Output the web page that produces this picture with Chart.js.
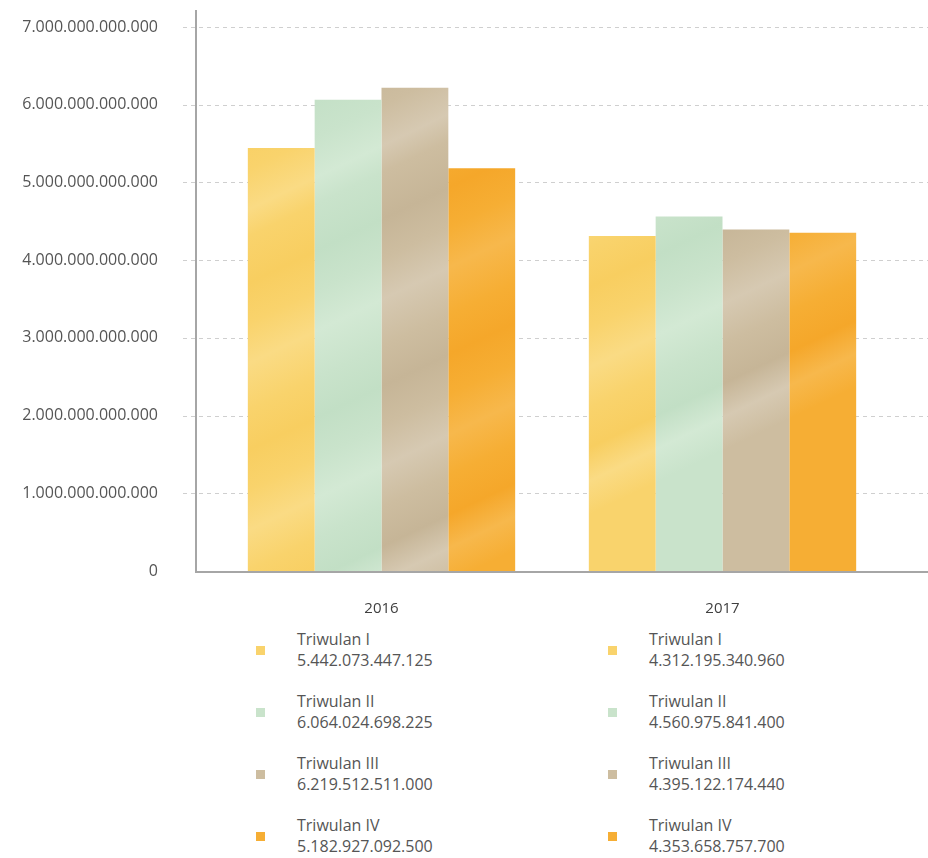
<!DOCTYPE html>
<html>
<head>
<meta charset="utf-8">
<script src="https://cdn.jsdelivr.net/npm/chart.js@4/dist/chart.umd.min.js"></script>
<style>
  html, body { margin: 0; padding: 0; background: #fff; }
  body { width: 928px; height: 858px; overflow: hidden; font-family: "Open Sans", sans-serif; }
  #wrap { position: relative; width: 928px; height: 625px; }
  #legend { position: relative; height: 233px; color: #555; font-size: 16px; }
  .col { position: absolute; top: 4px; }
  .item { position: relative; height: 62px; padding-left: 41px; line-height: 21px; }
  .swatch { position: absolute; left: 0; top: 17px; width: 9px; height: 9px; }
</style>
</head>
<body>
<div id="wrap"><canvas id="chart" width="928" height="625"></canvas></div>
<div id="legend"></div>
<script>
const years = ['2016', '2017'];
const quarters = ['Triwulan I', 'Triwulan II', 'Triwulan III', 'Triwulan IV'];
const triwulan1 = [5442073447125, 4312195340960];
const triwulan2 = [6064024698225, 4560975841400];
const triwulan3 = [6219512511000, 4395122174440];
const triwulan4 = [5182927092500, 4353658757700];
const yTicks = [0, 1e12, 2e12, 3e12, 4e12, 5e12, 6e12, 7e12];

// base colour plus a lighter and darker shade for the brush streaks
const palette = [
  ['#f9d36c', '#fadb84', '#f8ce60'],
  ['#c9e3cb', '#d3e9d4', '#c2dfc5'],
  ['#cdbda0', '#d6c9b2', '#c6b597'],
  ['#f6ae34', '#f7b84c', '#f5a72a']
];

const series = [triwulan1, triwulan2, triwulan3, triwulan4];

function fmt(v) {
  return String(v).replace(/\B(?=(\d{3})+(?!\d))/g, '.');
}

// soft diagonal brush strokes, uneven spacing
function streaks(ctx, area, shades) {
  const g = ctx.createLinearGradient(area.left, area.top, area.left + 260, area.bottom);
  const stops = [
    [0, 0], [0.05, 1], [0.11, 0], [0.16, 2], [0.24, 0], [0.3, 1], [0.34, 0],
    [0.41, 2], [0.47, 0], [0.53, 1], [0.6, 0], [0.66, 2], [0.72, 0], [0.78, 1],
    [0.84, 0], [0.9, 2], [0.95, 1], [1, 0]
  ];
  stops.forEach(([p, s]) => g.addColorStop(p, shades[s]));
  return g;
}

const axisLines = {
  id: 'axisLines',
  beforeDatasetsDraw(chart) {
    const { ctx, scales: { y } } = chart;
    ctx.save();
    ctx.strokeStyle = '#cfcfcf';
    ctx.lineWidth = 1;
    ctx.setLineDash([4, 4]);
    yTicks.slice(1).forEach(t => {
      const py = Math.round(y.getPixelForValue(t)) + 0.5;
      ctx.beginPath();
      ctx.moveTo(183, py);
      ctx.lineTo(chart.width, py);
      ctx.stroke();
    });
    ctx.restore();
  },
  afterDatasetsDraw(chart) {
    const { ctx, scales: { y } } = chart;
    const base = y.getPixelForValue(0);
    ctx.save();
    ctx.strokeStyle = '#a6a6a6';
    ctx.lineWidth = 2;
    ctx.beginPath();
    ctx.moveTo(196, 10);
    ctx.lineTo(196, base + 1);
    ctx.lineTo(chart.width, base + 1);
    ctx.stroke();
    ctx.restore();
  }
};

new Chart(document.getElementById('chart'), {
  type: 'bar',
  data: {
    labels: years,
    datasets: quarters.map((q, i) => ({
      label: q,
      data: series[i],
      backgroundColor: c => {
        const { ctx, chartArea } = c.chart;
        if (!chartArea) return palette[i][0];
        return streaks(ctx, chartArea, palette[i]);
      },
      borderWidth: 0,
      categoryPercentage: 0.784,
      barPercentage: 1
    }))
  },
  options: {
    responsive: false,
    animation: false,
    layout: { padding: { top: 27, right: 35, left: 0, bottom: 0 } },
    plugins: { legend: { display: false }, tooltip: { enabled: false } },
    scales: {
      x: {
        grid: { display: false, drawTicks: false },
        border: { display: false },
        ticks: { color: '#404040', font: { family: 'Open Sans', size: 15 }, padding: 29 },
        afterFit: s => { s.height = 54; s.paddingLeft = 0; s.paddingRight = 0; }
      },
      y: {
        min: 0,
        max: 7e12,
        afterBuildTicks: s => { s.ticks = yTicks.map(v => ({ value: v })); },
        grid: { display: false, drawTicks: false },
        border: { display: false },
        ticks: {
          color: '#555',
          font: { family: 'Open Sans', size: 16 },
          padding: 53,
          callback: v => fmt(v)
        },
        afterFit: s => { s.width = 211; s.paddingTop = 0; s.paddingBottom = 0; }
      }
    }
  },
  plugins: [axisLines]
});

// legend: one column per year, one entry per quarter with its value
const legend = document.getElementById('legend');
const colX = [256, 608];
years.forEach((yr, j) => {
  const col = document.createElement('div');
  col.className = 'col';
  col.style.left = colX[j] + 'px';
  quarters.forEach((q, i) => {
    const item = document.createElement('div');
    item.className = 'item';
    item.innerHTML = `<span class="swatch" style="background:${palette[i][0]}"></span>${q}<br>${fmt(series[i][j])}`;
    col.appendChild(item);
  });
  legend.appendChild(col);
});
</script>
</body>
</html>
